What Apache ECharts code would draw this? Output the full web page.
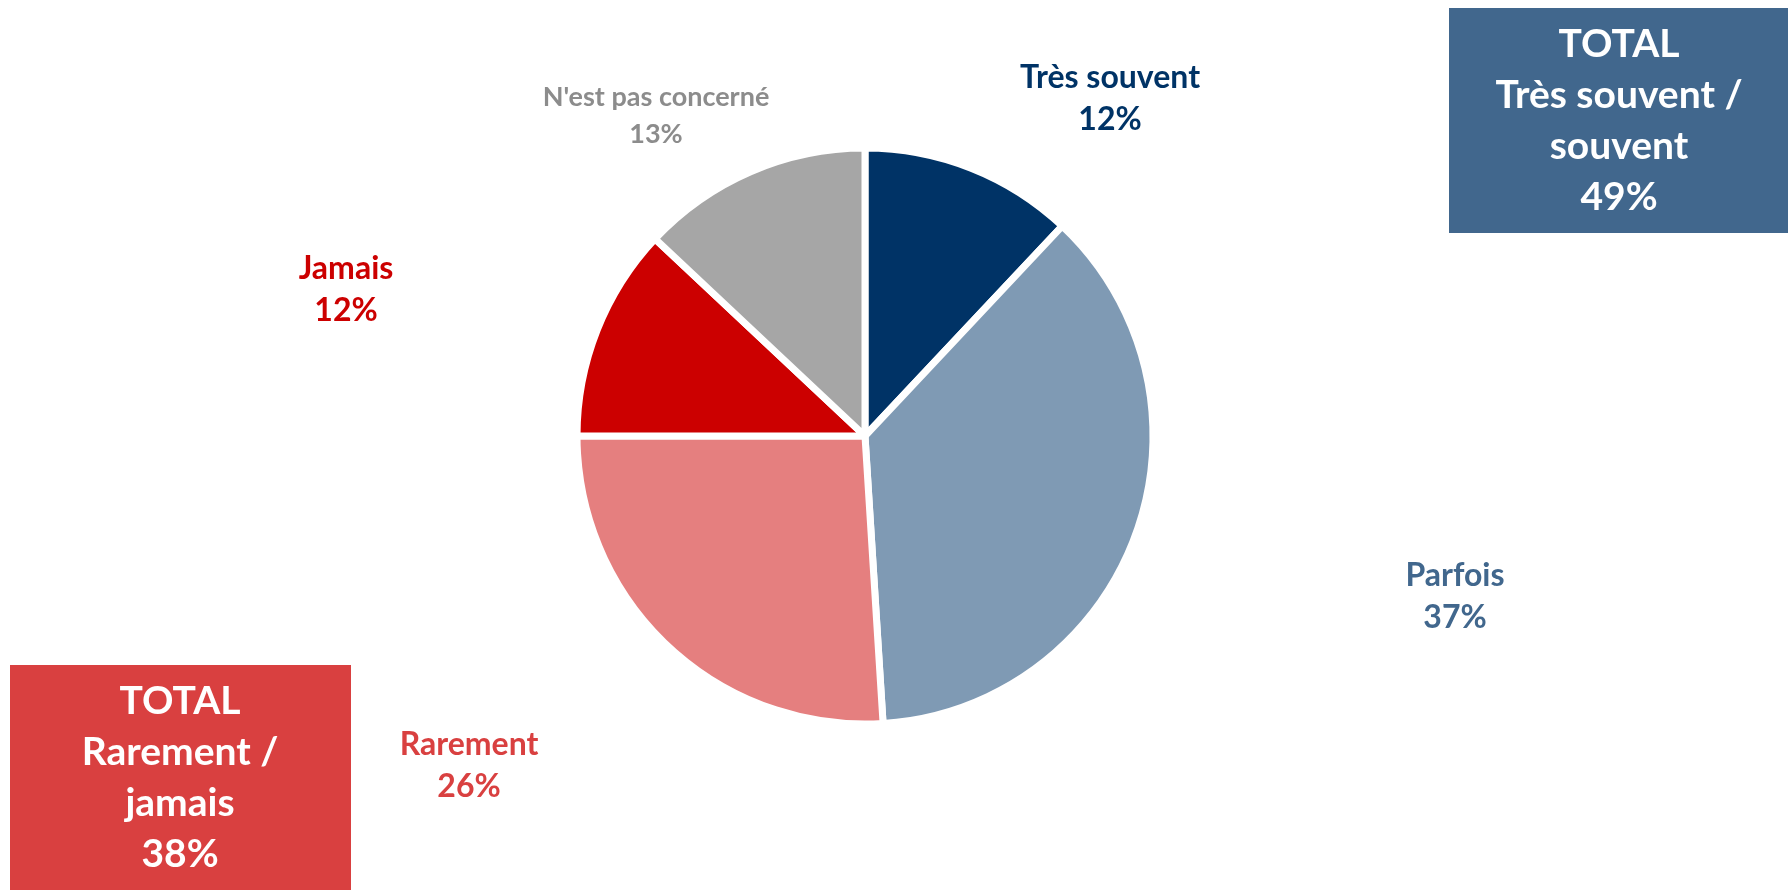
<!DOCTYPE html>
<html>
<head>
<meta charset="utf-8">
<script src="https://cdn.jsdelivr.net/npm/echarts@6/dist/echarts.min.js"></script>
<style>
  html, body { margin: 0; padding: 0; background: #ffffff; }
  #chart { width: 1788px; height: 890px; }
</style>
</head>
<body>
<div id="chart"></div>
<script>
// ---- Data ----
const categories = ['Très souvent', 'Parfois', 'Rarement', 'Jamais', "N'est pas concerné"];
const values = [12, 37, 26, 12, 13];
const totalHighLabel = ['TOTAL', 'Très souvent /', 'souvent'];
const totalHighParts = [0, 1];      // indexes summed: Très souvent + Parfois
const totalLowLabel = ['TOTAL', 'Rarement /', 'jamais'];
const totalLowParts = [2, 3];       // indexes summed: Rarement + Jamais

// ---- Styles / layout (kept apart from data) ----
const sliceColors = ['#003366', '#7F9AB4', '#E57F7F', '#CC0000', '#A6A6A6'];
const labelColors = ['#003366', '#41678D', '#D94040', '#CC0000', '#8C8C8C'];
const labelSizes = [32, 32, 32, 32, 27];
const labelLineHeights = [42, 42, 42, 42, 37];
const labelAnchors = [[1110, 99], [1455, 597], [469, 766], [346, 290], [656, 116]];
const FONT = 'Lato, "Open Sans", "Noto Sans", sans-serif';

const sumOf = idx => idx.reduce((s, i) => s + values[i], 0);

const chart = echarts.init(document.getElementById('chart'), null, { renderer: 'canvas' });

const data = categories.map((name, i) => ({
  name: name,
  value: values[i],
  itemStyle: { color: sliceColors[i] },
  label: {
    color: labelColors[i],
    fontSize: labelSizes[i],
    lineHeight: labelLineHeights[i]
  }
}));

function boxText(lines, total) {
  return lines.concat([total + '%']).join('\n');
}

const option = {
  backgroundColor: '#ffffff',
  animation: false,
  series: [{
    type: 'pie',
    center: [865, 436],
    radius: 288,
    startAngle: 90,
    clockwise: true,
    selectedMode: false,
    itemStyle: { borderColor: '#ffffff', borderWidth: 7 },
    emphasis: { disabled: true },
    label: {
      show: true,
      position: 'outside',
      formatter: '{b}\n{c}%',
      fontFamily: FONT,
      fontWeight: 'bold',
      align: 'center'
    },
    labelLine: { show: false },
    labelLayout: function (params) {
      const p = labelAnchors[params.dataIndex];
      return { x: p[0], y: p[1], align: 'center', verticalAlign: 'middle' };
    },
    data: data
  }],
  graphic: [
    {
      type: 'group',
      left: 1449, top: 8,
      children: [
        { type: 'rect', shape: { x: 0, y: 0, width: 339, height: 225 }, style: { fill: '#41678D' } },
        { type: 'text', x: 170, y: 113,
          style: { text: boxText(totalHighLabel, sumOf(totalHighParts)), fill: '#ffffff',
                   fontFamily: FONT, fontWeight: 'bold', fontSize: 39, lineHeight: 51,
                   align: 'center', verticalAlign: 'middle' } }
      ]
    },
    {
      type: 'group',
      left: 10, top: 665,
      children: [
        { type: 'rect', shape: { x: 0, y: 0, width: 341, height: 225 }, style: { fill: '#D94040' } },
        { type: 'text', x: 170, y: 113,
          style: { text: boxText(totalLowLabel, sumOf(totalLowParts)), fill: '#ffffff',
                   fontFamily: FONT, fontWeight: 'bold', fontSize: 39, lineHeight: 51,
                   align: 'center', verticalAlign: 'middle' } }
      ]
    }
  ]
};

chart.setOption(option);
</script>
</body>
</html>
